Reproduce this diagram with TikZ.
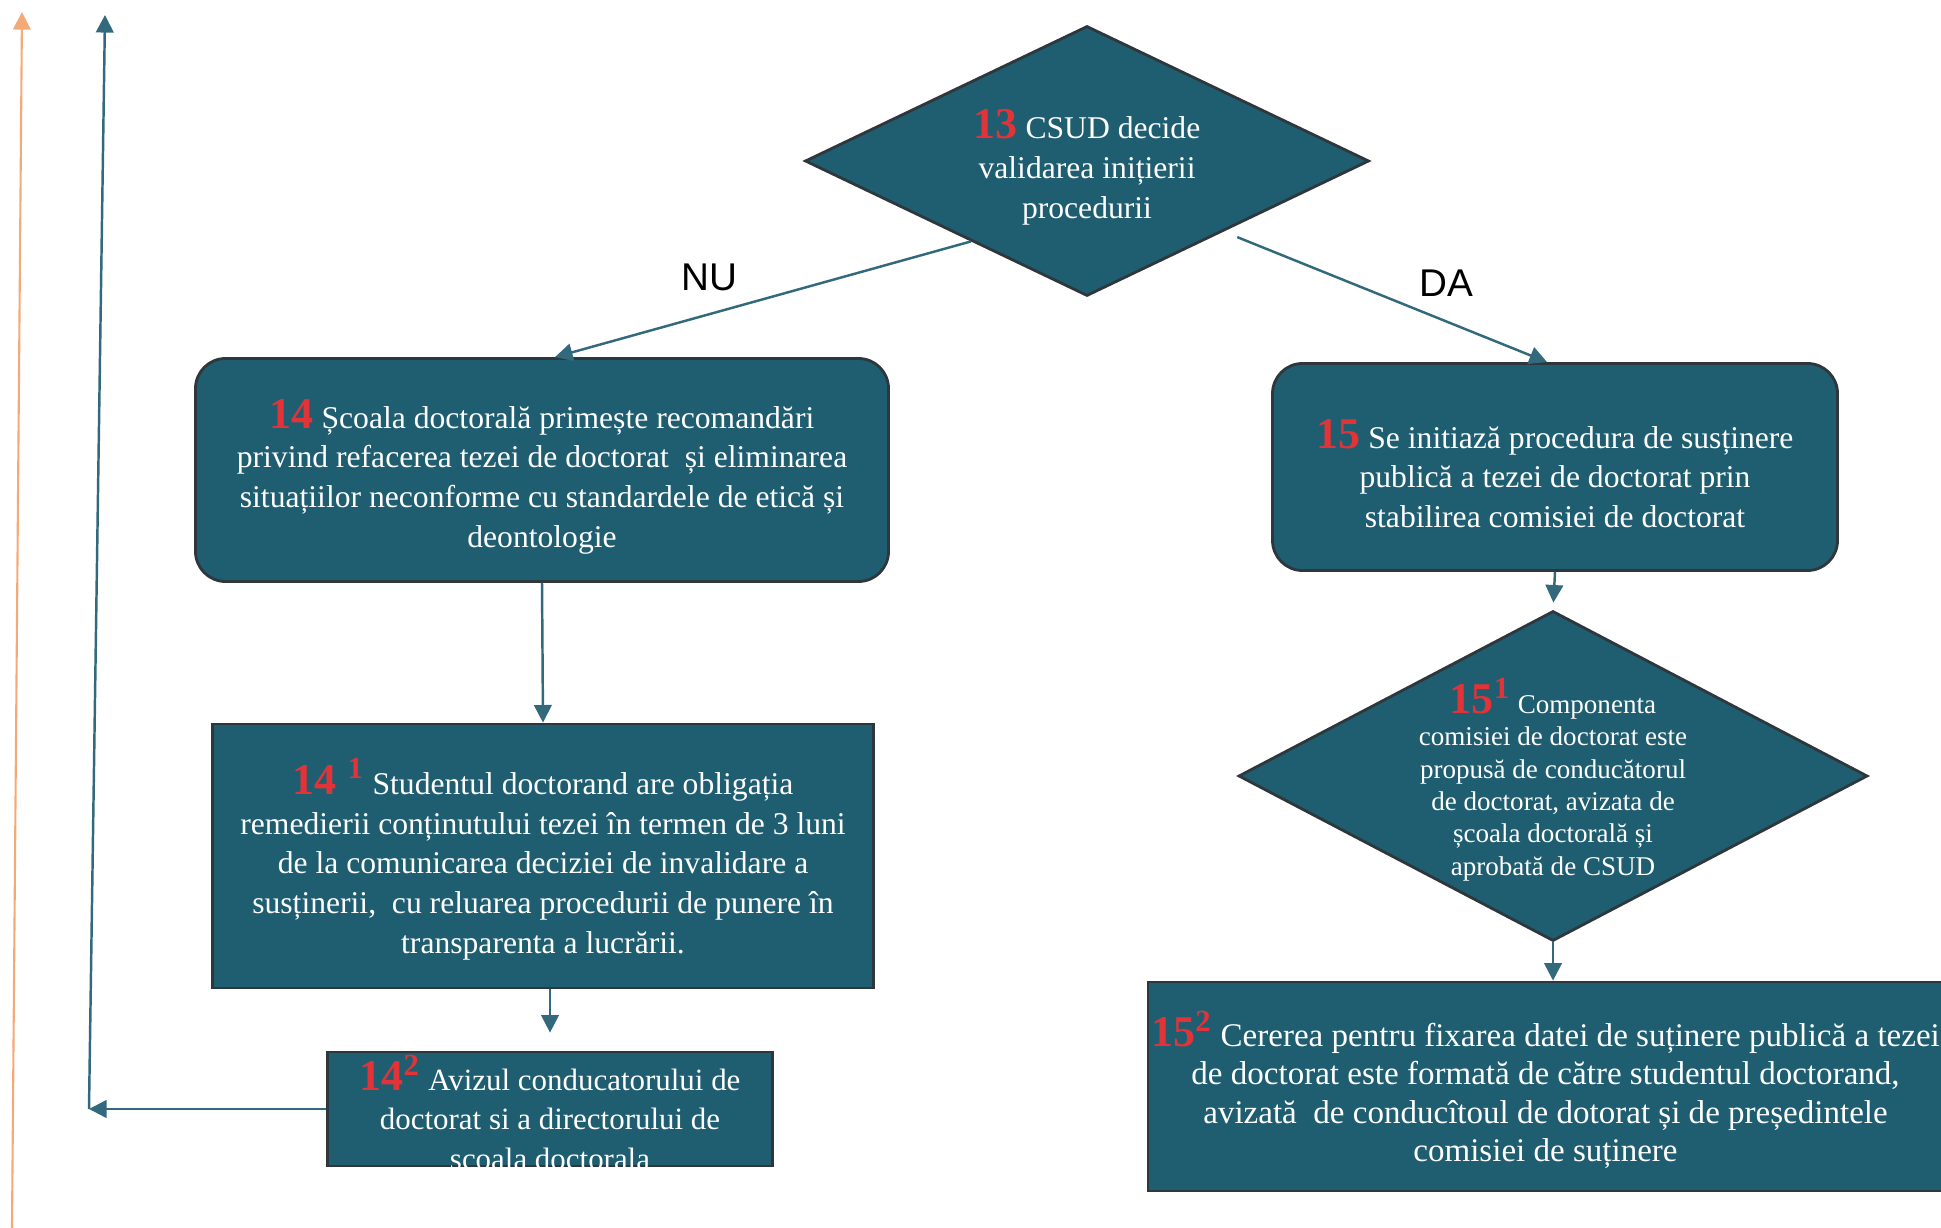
\documentclass[tikz,border=0pt]{standalone}
\usepackage{fontspec}
\setmainfont{Liberation Serif}
\newfontfamily\labelfont{Liberation Sans}
\usepackage{tikz}
\usetikzlibrary{shapes.geometric, arrows.meta, calc}

\definecolor{boxteal}{RGB}{31,94,113}
\definecolor{boxedge}{RGB}{45,55,60}
\definecolor{linkteal}{RGB}{50,105,125}
\definecolor{numred}{RGB}{226,52,56}
\definecolor{backorange}{RGB}{244,170,120}

\newcommand{\stepno}[1]{\rule{0pt}{12pt}{\color{numred}\bfseries\fontsize{12.5}{12.5}\selectfont #1}}

\begin{document}
\begin{tikzpicture}[
    boxtext/.style={text=white, align=center, font=\fontsize{9}{11.3}\selectfont},
    roundbox/.style={boxtext, draw=boxedge, line width=0.8pt, fill=boxteal, rounded corners=0.3cm, inner sep=0pt},
    sqbox/.style={boxtext, draw=boxedge, line width=0.8pt, fill=boxteal, inner sep=0pt},
    decision/.style={boxtext, diamond, draw=boxedge, line width=0.8pt, fill=boxteal, inner sep=0pt},
    link/.style={draw=linkteal, line width=0.7pt, -{Triangle[length=5pt, width=5pt]}},
    branch/.style={font=\labelfont\fontsize{11}{11}\selectfont}
]
    \useasboundingbox (0,0) rectangle (19.41,-12.28);

    % Decision 13
    \node[decision, aspect=2.09, minimum width=5.64cm, minimum height=2.70cm] (d13) at (10.87,-1.61)
        {\stepno{13} CSUD decide\\validarea inițierii\\procedurii};

    % NU branch
    \node[roundbox, minimum width=6.93cm, minimum height=2.23cm] (b14) at (5.42,-4.70)
        {\stepno{14} Școala doctorală primește recomandări\\privind refacerea tezei de doctorat \ și eliminarea\\situațiilor neconforme cu standardele de etică și\\deontologie};
    \node[sqbox, minimum width=6.61cm, minimum height=2.64cm] (b14a) at (5.43,-8.56)
        {\stepno{14 \textsuperscript{1}} Studentul doctorand are obligația\\remedierii conținutului tezei în termen de 3 luni\\de la comunicarea deciziei de invalidare a\\susținerii, \ cu reluarea procedurii de punere în\\transparenta a lucrării.};
    \node[sqbox, minimum width=4.45cm, minimum height=1.14cm] (b14b) at (5.50,-11.09) {};
    \node[boxtext, font=\fontsize{8.8}{11.1}\selectfont, anchor=south, inner sep=0pt] (t14b) at (5.50,-11.70)
        {\stepno{14\textsuperscript{2}} Avizul conducatorului de\\doctorat si a directorului de\\scoala doctorala};

    % DA branch
    \node[roundbox, minimum width=5.65cm, minimum height=2.07cm] (b15) at (15.55,-4.67)
        {\stepno{15} Se initiază procedura de susținere\\publică a tezei de doctorat prin\\stabilirea comisiei de doctorat};
    \node[decision, font=\fontsize{7.7}{9.2}\selectfont, inner sep=-3pt, aspect=1.906, minimum width=6.29cm, minimum height=3.30cm] (d15a) at (15.53,-7.76)
        {\stepno{15\textsuperscript{1}} Componenta\\comisiei de doctorat este\\propusă de conducătorul\\de doctorat, avizata de\\școala doctorală și\\aprobată de CSUD};
    \node[sqbox, font=\fontsize{9.4}{10.9}\selectfont, minimum width=7.95cm, minimum height=2.09cm] (b15b) at (15.455,-10.865)
        {\stepno{15\textsuperscript{2}} Cererea pentru fixarea datei de suținere publică a tezei\\de doctorat este formată de către studentul doctorand,\\avizată \ de conducîtoul de dotorat și de președintele\\comisiei de suținere};

    % Branch labels
    \node[branch] (lblNU) at (7.09,-2.77) {NU};
    \node[branch] (lblDA) at (14.46,-2.83) {DA};

    % Connectors
    \draw[link] ($(d13.west)!0.59!(d13.south)$) -- ([xshift=0.13cm]b14.north);
    \draw[link] ($(d13.east)!0.47!(d13.south) + (0,-0.12)$) -- ([xshift=-0.08cm]b15.north);
    \draw[link] (b14.south) -- (b14a.north);
    \draw[link, shorten >=0.18cm] (b14a.south -| b14b.north) -- (b14b.north);
    \draw[link, shorten >=0.07cm] (b15.south) -- (d15a.north);
    \draw[link] (d15a.south) -- (d15a.south |- b15b.north);

    % Return lines on the left
    \coordinate (corner) at (0.89,-11.09);
    \coordinate (top) at (1.05,-0.15);
    \draw[link] (b14b.west) -- (corner);
    \draw[link] (corner) -- (top);
    \coordinate (obot) at (0.12,-12.28);
    \coordinate (otop) at (0.22,-0.12);
    \draw[link, draw=backorange, fill=backorange, line width=0.6pt] (obot) -- (otop);

\end{tikzpicture}
\end{document}
